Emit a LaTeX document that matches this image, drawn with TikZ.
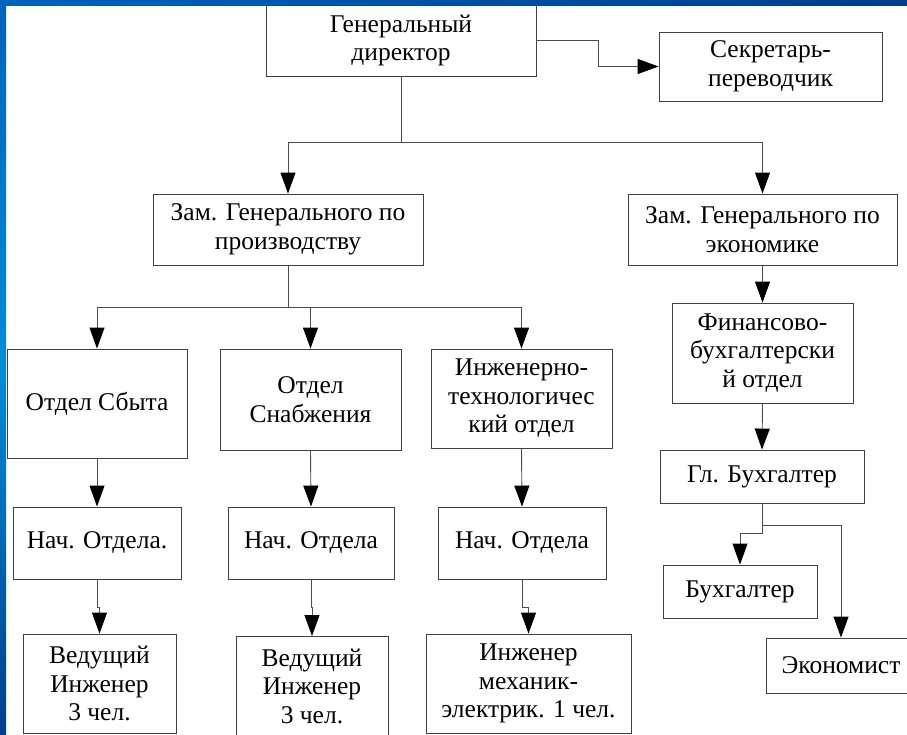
\documentclass[tikz,border=0pt]{standalone}
\usepackage{fontspec}
\setmainfont{Liberation Serif}
\usetikzlibrary{arrows.meta}

\definecolor{slidetop}{RGB}{0,98,190}
\definecolor{slidedark}{RGB}{0,62,140}
\definecolor{slidelight}{RGB}{0,140,215}

\begin{document}
\begin{tikzpicture}[x=1pt,y=-1pt,
  box/.style={draw=black!75,line width=0.9pt,fill=white,align=center,inner sep=0pt,
    font=\fontsize{25.5}{28.5}\selectfont},
  arr/.style={draw=black!70,line width=0.9pt,-{Triangle[length=21pt,width=15pt,color=black]}}]
  \useasboundingbox (0,0) rectangle (907,734);
  \clip (0,0) rectangle (907,734);
  % slide frame
  \shade[left color=slidetop,right color=slidedark] (0,0) rectangle (907,5);
  \shade[top color=slidetop,bottom color=slidedark,middle color=slidelight] (0,0) rectangle (6,734);
  % boxes
  \node[box,minimum width=270,minimum height=71] (gd) at (401,40.5) {Генеральный\\директор};
  \node[box,minimum width=223,minimum height=69] (sec) at (770.5,66.5) {Секретарь-\\переводчик};
  \node[box,minimum width=270,minimum height=71] (zp) at (288,229.5) {Зам. Генерального по\\производству};
  \node[box,minimum width=269,minimum height=71] (ze) at (762.5,229.5) {Зам. Генерального по\\экономике};
  \node[box,minimum width=180,minimum height=109] (sbyt) at (97,403.5) {Отдел Сбыта};
  \node[box,minimum width=181,minimum height=101] (snab) at (310.5,399.5) {Отдел\\Снабжения};
  \node[box,minimum width=181,minimum height=99] (itech) at (521.5,398.5) {Инженерно-\\технологичес\\кий отдел};
  \node[box,minimum width=181,minimum height=100] (fin) at (762.5,353) {Финансово-\\бухгалтерски\\й отдел};
  \node[box,minimum width=204,minimum height=53] (glb) at (762,476.5) {Гл. Бухгалтер};
  \node[box,minimum width=154,minimum height=53] (buh) at (740,591.5) {Бухгалтер};
  \node[box,minimum width=150,minimum height=55] (eko) at (841,665.5) {Экономист};
  \node[box,minimum width=168,minimum height=72] (nach1) at (97,543) {Нач. Отдела.};
  \node[box,minimum width=166,minimum height=72] (nach2) at (311,543) {Нач. Отдела};
  \node[box,minimum width=168,minimum height=72] (nach3) at (522,543) {Нач. Отдела};
  \node[box,minimum width=153,minimum height=99] (ved1) at (99.5,683.5) {Ведущий\\Инженер\\3 чел.};
  \node[box,minimum width=152,minimum height=99] (ved2) at (312,686) {Ведущий\\Инженер\\3 чел.};
  \node[box,minimum width=205,minimum height=99] (meh) at (528.5,683.5) {Инженер\\механик-\\электрик. 1 чел.};
  % connectors
  \draw[arr] (gd.south) -- ++(0,66) -| (zp.north);
  \draw[arr] (gd.south) -- ++(0,66) -| (ze.north);
  \draw[arr] (gd.east) -- ++(62,0) |- (sec.west);
  \draw[arr] (zp.south) -- ++(0,42) -| (sbyt.north);
  \draw[arr] (zp.south) -- ++(0,42) -| (snab.north);
  \draw[arr] (zp.south) -- ++(0,42) -| (itech.north);
  \draw[arr] (ze.south) -- (fin.north);
  \draw[arr] (fin.south) -- (glb.north);
  \draw[arr] (glb.south) -- ++(0,30) -| (buh.north);
  \draw[arr] (glb.south) -- ++(0,22) -| (eko.north);
  \draw[arr] (sbyt.south) -- (nach1.north);
  \draw[arr] (snab.south) -- (nach2.north);
  \draw[arr] (itech.south) -- (nach3.north);
  \draw[arr] (nach1.south) -- ++(0,28) -| (ved1.north);
  \draw[arr] (nach2.south) -- ++(0,28) -| (ved2.north);
  \draw[arr] (nach3.south) -- ++(0,28) -| (meh.north);
\end{tikzpicture}
\end{document}
